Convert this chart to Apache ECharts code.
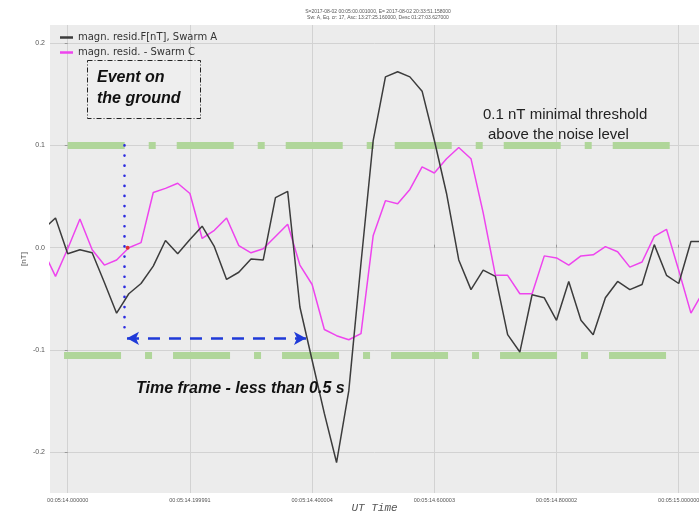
<!DOCTYPE html>
<html>
<head>
<meta charset="utf-8">
<script src="https://cdn.jsdelivr.net/npm/echarts@6/dist/echarts.min.js"></script>
<style>
  html, body { margin: 0; padding: 0; background: #ffffff; }
  #chart { width: 699px; height: 513px; }
</style>
</head>
<body>
<div id="chart"></div>
<script>
// Sample times in seconds after 00:05:14 UT (50 Hz samples)
const times = [-0.04, -0.02, 0.00, 0.02, 0.04, 0.06, 0.08, 0.10, 0.12, 0.14,
  0.16, 0.18, 0.20, 0.22, 0.24, 0.26, 0.28, 0.30, 0.32, 0.34,
  0.36, 0.38, 0.40, 0.42, 0.44, 0.46, 0.48, 0.50, 0.52, 0.54,
  0.56, 0.58, 0.60, 0.62, 0.64, 0.66, 0.68, 0.70, 0.72, 0.74,
  0.76, 0.78, 0.80, 0.82, 0.84, 0.86, 0.88, 0.90, 0.92, 0.94,
  0.96, 0.98, 1.00, 1.02, 1.04];

// Magnetic residuals [nT], Swarm A
const swarmA = [0.018, 0.029, -0.006, -0.002, -0.005, -0.034, -0.064, -0.045, -0.035, -0.018,
  0.007, -0.006, 0.008, 0.021, 0.001, -0.031, -0.024, -0.011, -0.012, 0.049,
  0.055, -0.058, -0.110, -0.162, -0.210, -0.140, -0.015, 0.105, 0.167, 0.172,
  0.167, 0.153, 0.105, 0.053, -0.012, -0.041, -0.022, -0.028, -0.085, -0.102,
  -0.046, -0.049, -0.071, -0.033, -0.071, -0.085, -0.049, -0.033, -0.041, -0.036,
  0.003, -0.027, -0.035, 0.006, 0.006];

// Magnetic residuals [nT], Swarm C
const swarmC = [-0.003, -0.028, -0.001, 0.028, -0.002, -0.017, -0.012, 0.000, 0.005, 0.054,
  0.058, 0.063, 0.053, 0.009, 0.017, 0.029, 0.002, -0.005, -0.001, 0.011,
  0.023, -0.017, -0.036, -0.080, -0.086, -0.090, -0.084, 0.012, 0.046, 0.043,
  0.057, 0.079, 0.073, 0.087, 0.098, 0.087, 0.034, -0.027, -0.027, -0.045,
  -0.045, -0.008, -0.010, -0.017, -0.008, -0.007, 0.001, -0.004, -0.019, -0.014,
  0.011, 0.018, -0.022, -0.064, -0.043];

const xTickValues = [0, 0.2, 0.4, 0.6, 0.8, 1.0];
const xTickLabels = ['00:05:14.000000', '00:05:14.199991', '00:05:14.400004',
  '00:05:14.600003', '00:05:14.800002', '00:05:15.000000'];
const yTickValues = [-0.2, -0.1, 0.0, 0.1, 0.2];
const yTickLabels = ['-0.2', '-0.1', '0.0', '0.1', '0.2'];

const seriesNames = ['magn. resid.F[nT], Swarm A', 'magn. resid. - Swarm C'];
const titleLines = ['S=2017-08-02 00:05:00.001000, E= 2017-08-02 20:33:51.158000',
  'Sw: A, Eq. cr: 17, Asc: 13:27:25.160000, Desc 01:27:03.627000'];

// Annotation geometry in data units
const thresholdUpper = { y: 0.1, from: 0.0, to: 0.987 };
const thresholdLower = { y: -0.105, from: -0.006, to: 0.981 };
const eventTime = 0.092;
const eventSpan = { y: -0.0886, from: 0.097, to: 0.390 };

const pairs = (ys) => times.map((t, i) => [t, ys[i]]);
const pickLabel = (vals, labels) => (v) => {
  const i = vals.findIndex((t) => Math.abs(t - v) < 1e-6);
  return i >= 0 ? labels[i] : '';
};

const greenDash = {
  color: '#b0d69a', width: 7, type: [57, 24, 7, 21], cap: 'butt', opacity: 1
};

const chart = echarts.init(document.getElementById('chart'), null, { renderer: 'canvas' });
chart.setOption({
  animation: false,
  backgroundColor: '#ffffff',
  grid: {
    left: 50, right: 0, top: 25, bottom: 20, show: true,
    backgroundColor: '#ececec', borderWidth: 0,
    containLabel: false, outerBoundsMode: 'none'
  },
  legend: {
    orient: 'vertical', left: 60, top: 32, itemGap: 4, padding: 0,
    icon: 'rect', itemWidth: 13, itemHeight: 2.5,
    textStyle: { fontSize: 10, color: '#333', fontFamily: 'DejaVu Sans', lineHeight: 11 },
    data: seriesNames
  },
  xAxis: {
    type: 'value', min: -0.029, max: 1.0332,
    name: 'UT Time', nameLocation: 'middle', nameGap: 10, nameMoveOverlap: false,
    nameTextStyle: { fontFamily: 'Liberation Mono', fontStyle: 'italic', fontSize: 11, color: '#555', verticalAlign: 'top' },
    axisLine: { show: false },
    axisTick: { show: true, inside: true, length: 3, customValues: xTickValues, lineStyle: { color: '#999' } },
    axisLabel: { customValues: xTickValues, formatter: pickLabel(xTickValues, xTickLabels), fontSize: 5.5, color: '#555', margin: 4 },
    splitLine: { show: true, lineStyle: { color: '#d2d2d2', width: 1 } }
  },
  yAxis: {
    type: 'value', min: -0.2398, max: 0.2177,
    name: '[nT]', nameLocation: 'middle', nameGap: 22, nameRotate: 90, nameMoveOverlap: false,
    nameTextStyle: { fontSize: 8, color: '#555' },
    axisLine: { show: false },
    axisTick: { show: true, inside: false, length: 3, customValues: yTickValues, lineStyle: { color: '#999' } },
    axisLabel: { customValues: yTickValues, formatter: pickLabel(yTickValues, yTickLabels), fontSize: 7, color: '#555', margin: 5 },
    splitLine: { show: true, lineStyle: { color: '#d2d2d2', width: 1 } }
  },
  series: [
    {
      name: seriesNames[0], type: 'line', data: pairs(swarmA), symbol: 'none', clip: true, z: 5,
      color: '#3c3c3c', lineStyle: { color: '#3c3c3c', width: 1.5 },
      markLine: {
        silent: true, symbol: 'none', animation: false, label: { show: false }, z: 1,
        data: [
          [{ coord: [thresholdUpper.from, thresholdUpper.y], lineStyle: greenDash },
           { coord: [thresholdUpper.to, thresholdUpper.y] }],
          [{ coord: [thresholdLower.from, thresholdLower.y], lineStyle: greenDash },
           { coord: [thresholdLower.to, thresholdLower.y] }]
        ]
      }
    },
    {
      name: seriesNames[1], type: 'line', data: pairs(swarmC), symbol: 'none', clip: true, z: 4,
      color: '#ee44ee', lineStyle: { color: '#ee44ee', width: 1.5 },
      markLine: {
        silent: true, animation: false, label: { show: false }, z: 6,
        data: [
          [{ coord: [eventTime, 0.1], symbol: 'none',
             lineStyle: { color: '#2a2ae0', width: 2.6, type: [0.1, 10], cap: 'round' } },
           { coord: [eventTime, -0.083], symbol: 'none' }],
          [{ coord: [eventSpan.from, eventSpan.y], symbol: 'arrow', symbolSize: [10, 12],
             lineStyle: { color: '#1f3ad8', width: 2.6, type: [12, 9], cap: 'butt' } },
           { coord: [eventSpan.to, eventSpan.y], symbol: 'arrow', symbolSize: [10, 12] }]
        ]
      },
      markPoint: {
        silent: true, animation: false, label: { show: false },
        data: [{ coord: [0.098, 0.0], symbol: 'circle', symbolSize: 4, itemStyle: { color: '#e03030' } }]
      }
    }
  ],
  graphic: [
    { type: 'text', z: 10, x: 378, y: 9,
      style: { text: titleLines.join('\n'), fontSize: 5, lineHeight: 6, fill: '#555', align: 'center' } },
    { type: 'rect', z: 10, shape: { x: 87.5, y: 60.5, width: 113, height: 58 },
      style: { fill: 'rgba(240,240,240,0.6)', stroke: '#222', lineWidth: 1, lineDash: [5, 2, 1, 2] } },
    { type: 'text', z: 11, x: 97, y: 67,
      style: { text: 'Event on\nthe ground', font: 'italic bold 16px "Liberation Sans"', lineHeight: 21, fill: '#111' } },
    { type: 'text', z: 11, x: 483, y: 107,
      style: { text: '0.1 nT minimal threshold', font: '15px "Liberation Sans"', fill: '#222' } },
    { type: 'text', z: 11, x: 488, y: 127,
      style: { text: 'above the noise level', font: '15px "Liberation Sans"', fill: '#222' } },
    { type: 'text', z: 11, x: 136, y: 381,
      style: { text: 'Time frame - less than 0.5 s', font: 'italic bold 16px "Liberation Sans"', fill: '#111' } }
  ]
});
</script>
</body>
</html>
